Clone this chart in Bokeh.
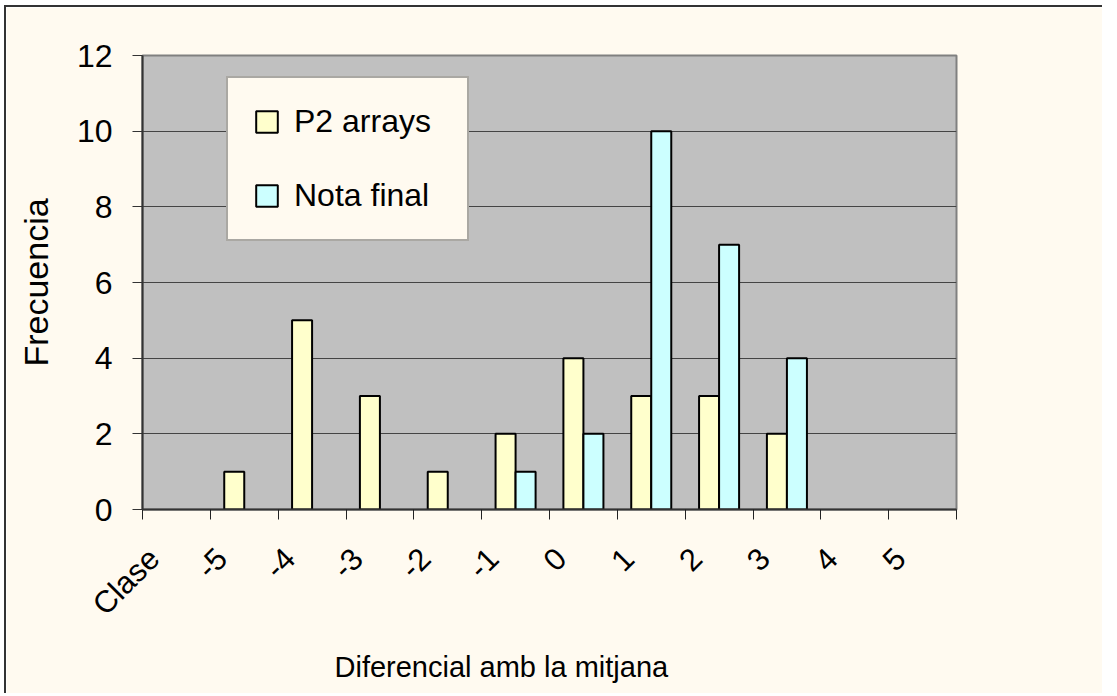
from bokeh.plotting import figure
from bokeh.models import ColumnDataSource, FixedTicker, Legend, LegendItem, Title, CDSView, BooleanFilter
from bokeh.transform import dodge
from bokeh.embed import file_html
from bokeh.resources import INLINE

categories = ["Clase", "-5", "-4", "-3", "-2", "-1", "0", "1", "2", "3", "4", "5"]
p2_arrays = [0, 1, 5, 3, 1, 2, 4, 3, 3, 2, 0, 0]
nota_final = [0, 0, 0, 0, 0, 1, 2, 10, 7, 4, 0, 0]
y_ticks = [0, 2, 4, 6, 8, 10, 12]

FONT = "Liberation Sans"
BG = "#FFFAF0"

centers = [i + 0.5 for i in range(len(categories))]
label_pos = [c - 0.33 for c in centers]
src = ColumnDataSource(dict(x=centers, p2=p2_arrays, nf=nota_final, cat=categories))

p = figure(frame_width=814, frame_height=454,
           min_border_left=136, min_border_right=146, min_border_top=48, min_border_bottom=176,
           x_range=(0, len(categories)), y_range=(0, 12),
           output_backend="svg", toolbar_location=None)
p.background_fill_color = "#C0C0C0"
p.border_fill_color = BG
p.outline_line_color = "#808080"
p.outline_line_width = 2
p.styles = {"border-top": "2px solid #333333", "border-left": "2px solid #333333",
            "margin-left": "4px", "margin-top": "5px"}

bw = 0.295
v1 = CDSView(filter=BooleanFilter([v > 0 for v in p2_arrays]))
v2 = CDSView(filter=BooleanFilter([v > 0 for v in nota_final]))
r1 = p.vbar(x=dodge("x", -bw / 2, range=p.x_range), top="p2", width=bw, source=src, view=v1,
            fill_color="#FFFFCC", line_color="black", line_width=2)
r2 = p.vbar(x=dodge("x", bw / 2, range=p.x_range), top="nf", width=bw, source=src, view=v2,
            fill_color="#CCFFFF", line_color="black", line_width=2)

# x axis: boundaries as minor ticks, labels near centers
xa = p.xaxis[0]
xa.ticker = FixedTicker(ticks=label_pos, minor_ticks=list(range(len(categories) + 1)))
xa.major_label_overrides = {c: lab for c, lab in zip(label_pos, categories)}
xa.major_tick_out = 0
xa.major_tick_in = 0
xa.minor_tick_out = 10
xa.minor_tick_in = 0
xa.minor_tick_line_color = "#222222"
xa.minor_tick_line_width = 1
xa.axis_line_color = "#333333"
xa.axis_line_width = 2
xa.major_label_orientation = 0.785398
xa.major_label_standoff = 34
xa.major_label_text_font = FONT
xa.major_label_text_font_size = "31px"
xa.major_label_text_color = "black"

ya = p.yaxis[0]
ya.ticker = FixedTicker(ticks=y_ticks)
ya.minor_tick_line_color = None
ya.major_tick_out = 10
ya.major_tick_in = 0
ya.major_tick_line_color = "#333333"
ya.axis_line_color = "#333333"
ya.axis_line_width = 2
ya.major_label_standoff = 20
ya.major_label_text_font = FONT
ya.major_label_text_font_size = "32px"
ya.major_label_text_color = "black"
ya.axis_label = "Frecuencia"
ya.axis_label_text_font = FONT
ya.axis_label_text_font_size = "34px"
ya.axis_label_text_font_style = "normal"
ya.axis_label_text_color = "black"
ya.axis_label_standoff = 19

p.xgrid.grid_line_color = None
p.ygrid.grid_line_color = "#444444"
p.ygrid.grid_line_width = 1

xt = Title(text="Diferencial amb la mitjana", align="left", offset=192,
           text_font=FONT, text_font_size="29px", text_font_style="normal", text_color="black",
           standoff=22)
p.add_layout(xt, "below")

legend = Legend(items=[LegendItem(label="P2 arrays", renderers=[r1]),
                       LegendItem(label="Nota final", renderers=[r2])],
                location=(84, 268), orientation="vertical",
                padding=25, spacing=37, glyph_width=27, glyph_height=27,
                label_standoff=14, label_width=148,
                label_text_font=FONT, label_text_font_size="32px", label_text_color="black",
                background_fill_color=BG, background_fill_alpha=1,
                border_line_color="#555555", border_line_width=2)
p.add_layout(legend, "center")

open("out.html", "w").write(file_html(p, INLINE))
